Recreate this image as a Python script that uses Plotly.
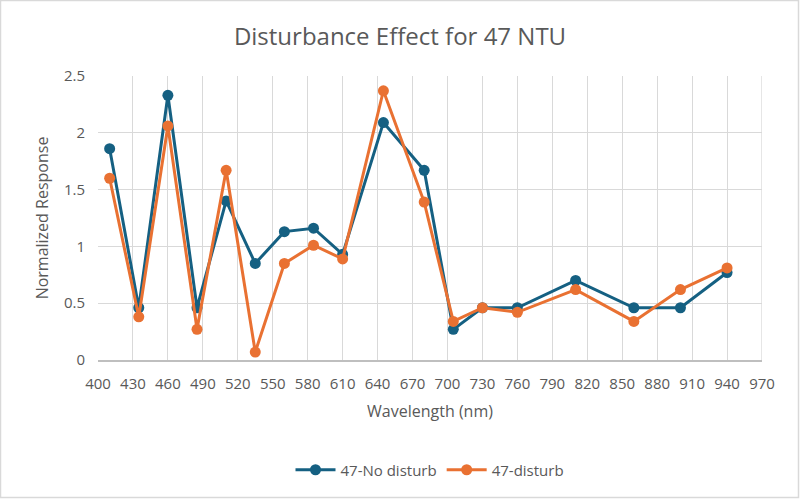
import plotly.graph_objects as go

wavelengths = [410, 435, 460, 485, 510, 535, 560, 585, 610, 645, 680, 705, 730, 760, 810, 860, 900, 940]
no_disturb = [1.86, 0.46, 2.33, 0.46, 1.40, 0.85, 1.13, 1.16, 0.93, 2.09, 1.67, 0.27, 0.46, 0.46, 0.70, 0.46, 0.46, 0.77]
disturb = [1.60, 0.38, 2.06, 0.27, 1.67, 0.07, 0.85, 1.01, 0.89, 2.37, 1.39, 0.34, 0.46, 0.42, 0.62, 0.34, 0.62, 0.81]

BLUE = "#156082"
ORANGE = "#E97132"
FONT = "Open Sans"
TXT = "#595959"
GRID = "#D9D9D9"

fig = go.Figure()
fig.add_trace(go.Scatter(x=wavelengths, y=no_disturb, mode="lines+markers", name="47-No disturb",
                         line=dict(color=BLUE, width=3), marker=dict(color=BLUE, size=11)))
fig.add_trace(go.Scatter(x=wavelengths, y=disturb, mode="lines+markers", name="47-disturb",
                         line=dict(color=ORANGE, width=3), marker=dict(color=ORANGE, size=11)))

L, R, T, B = 98, 38, 76, 139
W, H = 800, 499
pw, ph = W - L - R, H - T - B

fig.update_layout(
    width=W, height=H,
    margin=dict(l=L, r=R, t=T, b=B),
    paper_bgcolor="white", plot_bgcolor="white",
    font=dict(family=FONT, color=TXT, size=15),
    title=dict(text="Disturbance Effect for 47 NTU", x=0.5, xanchor="center", y=1 - 37 / H, yanchor="middle",
               font=dict(size=24, color=TXT, family=FONT)),
    xaxis=dict(range=[400, 970], tick0=400, dtick=30, showgrid=True, gridcolor=GRID, gridwidth=1.3,
               showline=True, linecolor="#BFBFBF", linewidth=1.5, zeroline=False, ticks="",
               ticklabelstandoff=9,
               title=dict(text="Wavelength (nm)", font=dict(size=16, color=TXT), standoff=14),
               tickfont=dict(size=15, color=TXT)),
    yaxis=dict(range=[0, 2.5], tick0=0, dtick=0.5, showgrid=True, gridcolor=GRID, gridwidth=1.3,
               zeroline=False, showline=False, ticks="",
               ticklabelstandoff=12,
               title=dict(text="Normalized Response", font=dict(size=16, color=TXT), standoff=11),
               tickfont=dict(size=15, color=TXT)),
    legend=dict(orientation="h", x=0.5, xanchor="center", y=-(470 - 360) / ph, yanchor="middle",
                font=dict(size=15, color=TXT), itemwidth=40),
    showlegend=True,
)

# right edge gridline and outer border
fig.add_shape(type="line", xref="x", yref="paper", x0=970, x1=970, y0=0, y1=1, line=dict(color=GRID, width=1.3))
fig.add_shape(type="rect", xref="paper", yref="paper",
              x0=(0.5 - L) / pw, x1=(W - 1.5 - L) / pw, y0=-(H - 1.5 - T - ph) / ph, y1=1 + (T - 0.5) / ph,
              line=dict(color="#D9D9D9", width=1.5), layer="below")

fig.write_html("out.html")
